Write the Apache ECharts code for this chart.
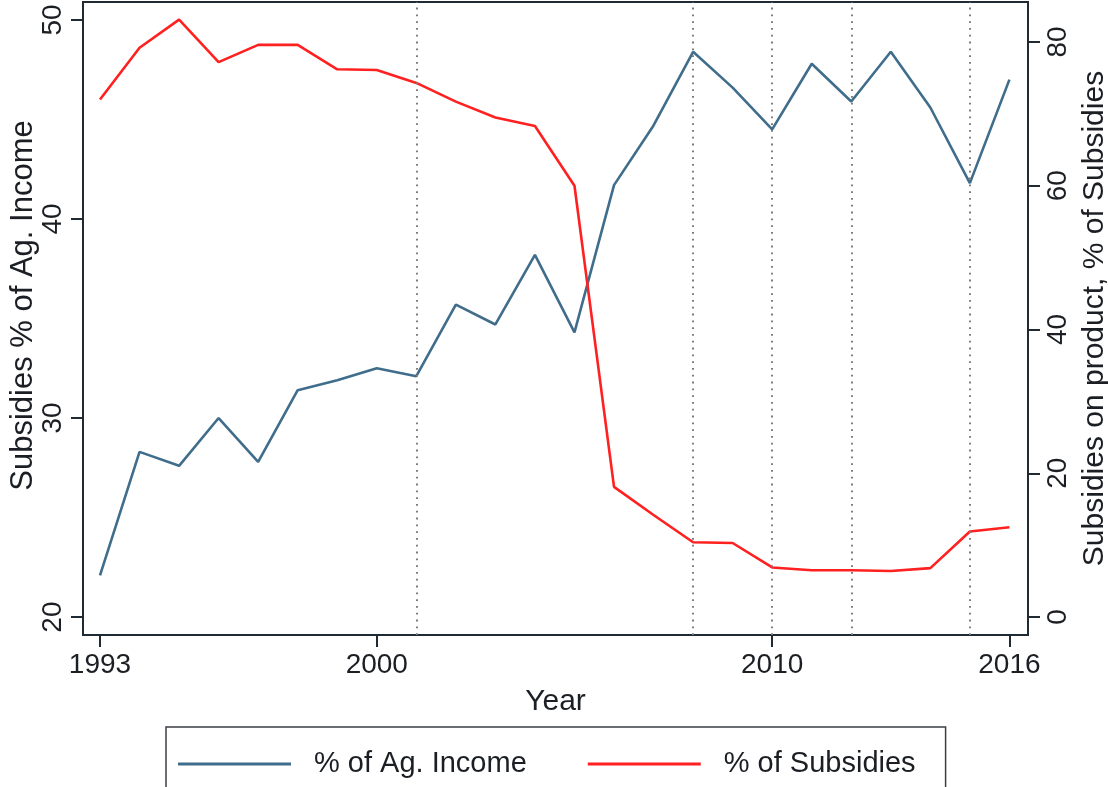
<!DOCTYPE html>
<html>
<head>
<meta charset="utf-8">
<title>Subsidies</title>
<script src="https://cdn.jsdelivr.net/npm/echarts@6/dist/echarts.min.js"></script>
<style>
  html, body { margin: 0; padding: 0; background: #fff; }
  #chart { width: 1108px; height: 787px; }
</style>
</head>
<body>
<div id="chart"></div>
<script>
// Years on the horizontal axis
const years = [1993, 1994, 1995, 1996, 1997, 1998, 1999, 2000, 2001, 2002, 2003, 2004,
               2005, 2006, 2007, 2008, 2009, 2010, 2011, 2012, 2013, 2014, 2015, 2016];

// Subsidies as % of agricultural income (left axis)
const agIncomeShare = [22.1, 28.3, 27.6, 30.0, 27.8, 31.4, 31.9, 32.5, 32.1, 35.7, 34.7, 38.2,
                       34.3, 41.7, 44.7, 48.4, 46.6, 44.5, 47.8, 45.9, 48.4, 45.6, 41.8, 47.0];

// Subsidies on product as % of all subsidies (right axis)
const productShare = [72.0, 79.2, 83.1, 77.2, 79.6, 79.6, 76.2, 76.1, 74.3, 71.7, 69.5, 68.3,
                      60.0, 18.1, 14.2, 10.4, 10.3, 6.9, 6.5, 6.5, 6.4, 6.8, 11.9, 12.5];

// Reference years marked with dotted vertical lines
const markerYears = [2001, 2008, 2010, 2012, 2015];

// Tick labels
const xTicks = [1993, 2000, 2010, 2016];
const leftTicks = [20, 30, 40, 50];
const rightTicks = [0, 20, 40, 60, 80];

const FONT = '"Liberation Sans", Arial, Helvetica, sans-serif';
const INK = '#1b1f24';
const FRAME = '#1f2a33';

const chart = echarts.init(document.getElementById('chart'), null, { renderer: 'canvas' });

const pair = (ys) => years.map((y, i) => [y, ys[i]]);

const axisCommon = {
  axisLine: { show: true, onZero: false, lineStyle: { color: FRAME, width: 2 } },
  axisTick: { show: true, length: 12, lineStyle: { color: FRAME, width: 2 } },
  splitLine: { show: false },
  nameTextStyle: { fontFamily: FONT, fontSize: 30, color: INK }
};

chart.setOption({
  animation: false,
  backgroundColor: '#ffffff',
  grid: {
    left: 83, right: 80, top: 2, bottom: 152,
    outerBoundsMode: 'none',
    containLabel: false,
    show: true, borderColor: FRAME, borderWidth: 2, backgroundColor: '#ffffff'
  },
  legend: {
    left: 166, top: 727,
    padding: [22, 30, 22, 12],
    borderColor: '#3a3f45', borderWidth: 1.5, borderRadius: 0,
    itemWidth: 113, itemHeight: 3, itemGap: 61,
    icon: 'rect',
    textStyle: { fontFamily: FONT, fontSize: 29, color: INK, padding: [0, 0, 0, 18], lineHeight: 30 },
    data: ['% of Ag. Income', '% of Subsidies']
  },
  xAxis: Object.assign({}, axisCommon, {
    type: 'value',
    min: 1992.57, max: 2016.47,
    name: 'Year', nameLocation: 'middle', nameGap: 52,
    axisTick: Object.assign({}, axisCommon.axisTick, { customValues: xTicks }),
    axisLabel: {
      customValues: xTicks, margin: 16, fontFamily: FONT, fontSize: 28, color: INK,
      formatter: (v) => String(Math.round(v))
    }
  }),
  yAxis: [
    Object.assign({}, axisCommon, {
      type: 'value', position: 'left',
      min: 19.1, max: 50.9,
      name: 'Subsidies % of Ag. Income', nameLocation: 'middle', nameRotate: 90, nameGap: 44,
      nameMoveOverlap: false,
      nameTextStyle: { fontFamily: FONT, fontSize: 31, color: INK, padding: [0, 0, 0, 26] },
      axisTick: Object.assign({}, axisCommon.axisTick, { customValues: leftTicks }),
      axisLabel: { customValues: leftTicks, rotate: 90, margin: 16, fontFamily: FONT, fontSize: 28, color: INK }
    }),
    Object.assign({}, axisCommon, {
      type: 'value', position: 'right',
      min: -2.5, max: 85.56,
      name: 'Subsidies on product, % of Subsidies', nameLocation: 'middle', nameRotate: 90, nameGap: 52,
      axisTick: Object.assign({}, axisCommon.axisTick, { customValues: rightTicks }),
      axisLabel: { customValues: rightTicks, rotate: 90, margin: 16, fontFamily: FONT, fontSize: 28, color: INK }
    })
  ],
  series: [
    {
      name: '% of Ag. Income',
      type: 'line',
      yAxisIndex: 0,
      data: pair(agIncomeShare),
      showSymbol: false,
      symbol: 'none',
      color: '#3f6d8b',
      lineStyle: { color: '#3f6d8b', width: 2.6 },
      z: 3,
      markLine: {
        silent: true,
        symbol: ['none', 'none'],
        label: { show: false },
        lineStyle: { color: '#7d7d7d', width: 2, type: [1.8, 5] },
        data: markerYears.map(y => ({ xAxis: y }))
      }
    },
    {
      name: '% of Subsidies',
      type: 'line',
      yAxisIndex: 1,
      data: pair(productShare),
      showSymbol: false,
      symbol: 'none',
      color: '#ff2020',
      lineStyle: { color: '#ff2020', width: 2.6 },
      z: 4
    }
  ]
});
</script>
</body>
</html>
